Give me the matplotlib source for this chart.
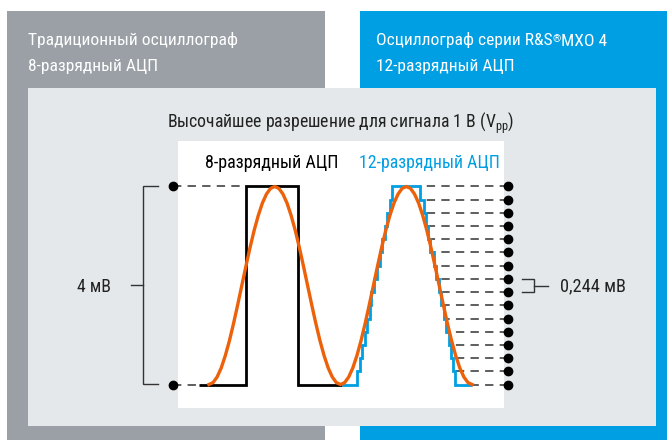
import matplotlib
matplotlib.use('Agg')
import matplotlib.pyplot as plt
from matplotlib import font_manager
from matplotlib.patches import Rectangle

# ---------------------------------------------------------------------------
# data (time in arbitrary units, amplitude in 12-bit quantization levels 0..15)
# ---------------------------------------------------------------------------
orange_t = [10.0, 11.25, 12.5, 13.75, 15.0, 16.25, 17.5, 18.75, 20.0, 21.25,
            22.5, 23.75, 25.0, 26.25, 27.5, 28.75, 30.0, 31.25, 32.5, 33.75,
            35.0, 36.25, 37.5, 38.75, 40.0, 41.25, 42.5, 43.75, 45.0, 46.25,
            47.5, 48.75, 50.0, 51.25, 52.5, 53.75, 55.0, 56.25, 57.5, 58.75,
            60.0, 61.25, 62.5, 63.75, 65.0, 66.25, 67.5, 68.75, 70.0, 71.25,
            72.5, 73.75, 75.0, 76.25, 77.5, 78.75, 80.0, 81.25, 82.5, 83.75,
            85.0, 86.25, 87.5, 88.75, 90.0]
orange_lvl = [0.0, 0.14, 0.57, 1.26, 2.2, 3.33, 4.63, 6.04, 7.5, 8.96,
              10.37, 11.67, 12.8, 13.74, 14.43, 14.86, 15.0, 14.86, 14.43, 13.74,
              12.8, 11.67, 10.37, 8.96, 7.5, 6.04, 4.63, 3.33, 2.2, 1.26,
              0.57, 0.14, 0.0, 0.14, 0.57, 1.26, 2.2, 3.33, 4.63, 6.04,
              7.5, 8.96, 10.37, 11.67, 12.8, 13.74, 14.43, 14.86, 15.0, 14.86,
              14.43, 13.74, 12.8, 11.67, 10.37, 8.96, 7.5, 6.04, 4.63, 3.33,
              2.2, 1.26, 0.57, 0.14, 0.0]

# 8-bit ADC: only two codes inside the 4 mV window
black_edges = [7.0, 21.3, 37.1, 50.5]
black_levels = [0, 15, 0]

# 12-bit ADC: 16 codes inside the same window
blue_rise = [55.0, 55.8, 56.6, 57.4, 58.1, 58.9, 59.4, 60.2, 61.1, 61.9,
             62.7, 63.4, 64.2, 65.0, 65.7]
blue_fall = [74.2, 75.3, 76.1, 76.6, 77.2, 78.4, 79.1, 79.8, 80.6, 81.5,
             82.2, 83.0, 83.7, 84.3, 84.9]
blue_start, blue_end = 50.5, 90.0
blue_levels = list(range(16)) + list(range(14, -1, -1))
levels_12bit = list(range(16))
levels_8bit = [0, 15]

header_left = ['Традиционный осциллограф', '8-разрядный АЦП']
header_right = [('Осциллограф серии R&S', '®', 'MXO 4'), '12-разрядный АЦП']
title = 'Высочайшее разрешение для сигнала 1 В (V$_{\\mathrm{pp}}$)'
label_8bit = '8-разрядный АЦП'
label_12bit = '12-разрядный АЦП'
label_big = '4 мВ'
label_small = '0,244 мВ'


def pick_font(names):
  for n in names:
    try:
      font_manager.findfont(font_manager.FontProperties(family=n),
                            fallback_to_default=False)
      return n
    except ValueError:
      pass
  return 'DejaVu Sans'


FONT = pick_font(['Liberation Sans Narrow', 'Roboto Condensed',
                  'Liberation Sans'])
plt.rcParams['font.family'] = [FONT, 'DejaVu Sans']
plt.rcParams['mathtext.fontset'] = 'custom'
plt.rcParams['mathtext.rm'] = FONT
plt.rcParams['lines.scale_dashes'] = False

GRAY = '#9aa0a6'
BLUE = '#009fe3'
PANEL = '#e4e8ea'
ORANGE = '#ec6109'
INK = '#222222'
DASH = '#333333'

fig = plt.figure(figsize=(6.67, 4.40), dpi=100)
bg = fig.add_axes([0, 0, 1, 1])
bg.set_xlim(0, 667)
bg.set_ylim(440, 0)
bg.axis('off')

# boxes
bg.add_patch(Rectangle((7, 11), 318, 440, color=GRAY, lw=0))
bg.add_patch(Rectangle((360, 11), 320, 440, color=BLUE, lw=0))
bg.add_patch(Rectangle((28, 88), 628, 338, color=PANEL, lw=0))
bg.add_patch(Rectangle((178, 141), 326, 267, color='white', lw=0))

# header texts
for i, s in enumerate(header_left):
  bg.text(28, 45.5 + 25.5 * i, s, color='white', fontsize=12.6,
          va='baseline', ha='left')
main, reg, rest = header_right[0]
t1 = bg.text(376, 45.5, main, color='white', fontsize=12.6, va='baseline')
t2 = bg.annotate(reg, xy=(1, 0.93), xycoords=t1, color='white', fontsize=7.5,
                 va='top', ha='left')
bg.annotate(rest, xy=(1, 0), xycoords=(t2, t1), color='white', fontsize=12.6,
            va='bottom', ha='left')
bg.text(376, 71, header_right[1], color='white', fontsize=12.6,
        va='baseline', ha='left')

bg.text(341, 128, title, color=INK, fontsize=12.8, va='baseline', ha='center')
bg.text(205, 168, label_8bit, color='black', fontsize=13.0, va='baseline')
bg.text(359, 168, label_12bit, color=BLUE, fontsize=12.8, va='baseline')
bg.text(77, 292.5, label_big, color=INK, fontsize=12.8, va='baseline')
bg.text(560, 291.5, label_small, color=INK, fontsize=13.2, va='baseline')

# brackets
bk = dict(color=DASH, lw=1.0, solid_joinstyle='miter')
bg.plot([158, 143, 143, 158], [186, 186, 384.5, 384.5], **bk)
bg.plot([131, 143], [285, 285], **bk)
bg.plot([522, 534, 534, 522], [279, 279, 292.5, 292.5], **bk)
bg.plot([534, 548], [286, 286], **bk)

# signal axes
ax = fig.add_axes([176 / 667, (440 - 384.5) / 440, 329 / 667, 198 / 440])
ax.set_xlim(0, 100)
ax.set_ylim(0, 15)
ax.axis('off')
ax.patch.set_alpha(0)

dash = dict(color=DASH, lw=1.1, dashes=(6, 4.5))
# left reference levels (8-bit)
left_to = {0: black_edges[0], 15: black_edges[1]}
for lv in levels_8bit:
  ax.plot([-0.9, left_to[lv]], [lv, lv], clip_on=False, **dash)
ax.plot([-0.9] * len(levels_8bit), levels_8bit, 'o', color='black', ms=6,
        clip_on=False, zorder=5)

# right reference levels (12-bit)
for lv in levels_12bit:
  stop = blue_end if lv == 0 else blue_fall[15 - lv]
  ax.plot([100.9, stop], [lv, lv], clip_on=False, **dash)
ax.plot([100.9] * len(levels_12bit), levels_12bit, 'o', color='black', ms=6,
        clip_on=False, zorder=5)

ax.stairs(black_levels, black_edges, baseline=None, color='black', lw=2.0,
          joinstyle='miter', clip_on=False, zorder=3)
ax.plot(orange_t, orange_lvl, color=ORANGE, lw=2.4, clip_on=False, zorder=4)
ax.stairs(blue_levels, [blue_start] + blue_rise + blue_fall + [blue_end],
          baseline=None, color=BLUE, lw=2.0, joinstyle='miter',
          clip_on=False, zorder=3.5)

fig.savefig('out.png', dpi=100)
